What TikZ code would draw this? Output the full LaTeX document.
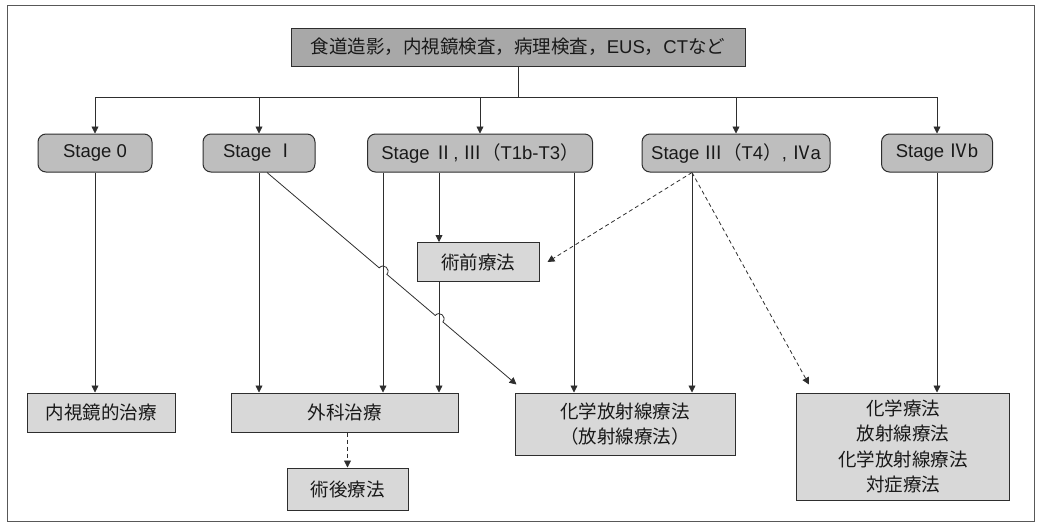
\documentclass[tikz,border=0pt]{standalone}
\usepackage{fontspec}
\setmainfont{Noto Sans CJK JP}
\newfontfamily\latf{Liberation Sans}
\usetikzlibrary{arrows.meta,calc}
\definecolor{topfill}{HTML}{A8A8A8}
\definecolor{stagefill}{HTML}{BEBEBE}
\definecolor{boxfill}{HTML}{D8D8D8}
\definecolor{ln}{HTML}{2E2E2E}
\begin{document}
\begin{tikzpicture}[x=1pt,y=-1pt,
  every node/.style={font=\fontsize{18.5}{25.5}\selectfont, inner sep=0pt, align=center, text=black!90},
  topbox/.style={draw=ln, line width=1pt, fill=topfill},
  stagebox/.style={draw=ln, line width=1pt, fill=stagefill, rounded corners=8pt, minimum height=38pt},
  treatbox/.style={draw=ln, line width=1pt, fill=boxfill},
  conn/.style={draw=ln, line width=0.8pt},
  arr/.style={conn, -{Triangle[length=7pt,width=7pt]}},
  darr/.style={arr, dash pattern=on 4pt off 3pt}
]
\useasboundingbox (0,0) rectangle (1041,528);
\draw[ln!80, line width=0.8pt] (7,5) rectangle (1034,521);

\node[topbox, minimum width=454pt, minimum height=38pt] (top) at (518,47) {食道造影，内視鏡検査，病理検査，{\latf EUS}，{\latf CT}など};

\node[stagebox, minimum width=114pt] (s0) at (95,153) {\latf Stage 0};
\node[stagebox, minimum width=112pt] (s1) at (259,153) {{\latf Stage }Ⅰ};
\node[stagebox, minimum width=225pt] (s2) at (480,153) {{\latf Stage }Ⅱ{\latf , }Ⅲ（{\latf T1b-T3}）};
\node[stagebox, minimum width=188pt] (s3) at (736,153) {{\latf Stage }Ⅲ（{\latf T4}）{\latf , }Ⅳ{\latf a}};
\node[stagebox, minimum width=111pt] (s4) at (937,153) {{\latf Stage }Ⅳ{\latf b}};

\node[treatbox, minimum width=122pt, minimum height=39pt] (pre) at (478,262) {術前療法};
\node[treatbox, minimum width=148pt, minimum height=39pt] (endo) at (101,412.5) {内視鏡的治療};
\node[treatbox, minimum width=227pt, minimum height=39pt] (surg) at (344.5,412.5) {外科治療};
\node[treatbox, minimum width=121pt, minimum height=42pt] (post) at (347.5,489) {術後療法};
\node[treatbox, minimum width=220pt, minimum height=62pt] (cr) at (625,424) {化学放射線療法\\（放射線療法）};
\node[treatbox, minimum width=213pt, minimum height=107pt] (rt) at (903,446.5) {化学療法\\放射線療法\\化学放射線療法\\対症療法};

% distribution from the top box
\coordinate (hub) at ($(top.south)+(0,31)$);
\draw[conn] (top.south) -- (hub);
\foreach \s in {s0,s1,s2,s3,s4} \draw[arr] (hub) -| (\s.north);

% stage 0
\draw[arr] (s0.south) -- (s0.south |- endo.north);
% stage I
\draw[arr] (s1.south) -- (s1.south |- surg.north);
% stage II, III
\coordinate (s2a) at ($(s2.south)+(-97,0)$);
\coordinate (s2b) at ($(s2.south)+(-41,0)$);
\coordinate (s2c) at ($(s2.south)+(94,0)$);
\coordinate (s2aend) at (s2a |- surg.north);
\coordinate (s2bend) at (s2b |- surg.north);
\draw[arr] (s2a) -- (s2aend);
\draw[arr] (s2b) -- (s2b |- pre.north);
\draw[arr] (pre.south -| s2b) -- (s2bend);
\draw[arr] (s2c) -- (s2c |- cr.north);
% stage III (T4), IVa
\coordinate (s3b) at ($(s3.south)+(-44,0)$);
\draw[arr] (s3b) -- (s3b |- cr.north);
\draw[darr] (s3b) -- ($(pre.east)+(8,0)$);
\draw[darr] (s3b) -- ($(rt.north west)+(13,-8)$);
% stage IVb
\draw[arr] (s4.south) -- (s4.south |- rt.north);
% surgery -> postoperative
\draw[darr] (surg.south -| post.north) -- (post.north);

% diagonal from stage I with line hops
\coordinate (s1d) at ($(s1.south)+(8,0)$);
\coordinate (crt) at ($(cr.north west)+(2,-8)$);
\coordinate (x1) at (intersection of s1d--crt and s2a--s2aend);
\coordinate (x2) at (intersection of s1d--crt and s2b--s2bend);
\coordinate (a1) at ($(x1)!5pt!(s1d)$);
\coordinate (b1) at ($(x1)!5pt!(crt)$);
\coordinate (a2) at ($(x2)!5pt!(s1d)$);
\coordinate (b2) at ($(x2)!5pt!(crt)$);
\draw[arr] (s1d) -- (a1)
  .. controls ($(a1)!6.7pt!90:(crt)$) and ($(b1)!6.7pt!-90:(s1d)$) .. (b1)
  -- (a2)
  .. controls ($(a2)!6.7pt!90:(crt)$) and ($(b2)!6.7pt!-90:(s1d)$) .. (b2)
  -- (crt);
\end{tikzpicture}
\end{document}
